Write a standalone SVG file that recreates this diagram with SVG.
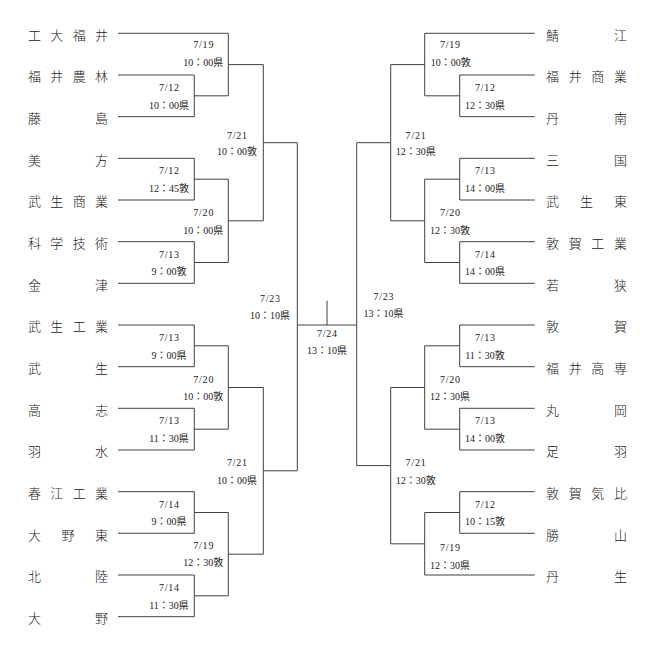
<svg xmlns="http://www.w3.org/2000/svg" width="654" height="651" viewBox="0 0 654 651">
<style>
.bg{fill:#ffffff}
.tm{font-family:"Noto Sans CJK JP","Noto Sans CJK SC",sans-serif;font-size:13px;font-weight:300;fill:#222}
.lb{font-family:"Liberation Serif","Noto Sans CJK JP",serif;font-size:10px;fill:#222;text-anchor:middle}
.d{letter-spacing:0.8px}
.ln{fill:none;stroke:#404040;stroke-width:1}
</style>
<rect class="bg" x="0" y="0" width="654" height="651"/>
<g id="connectors" class="ln">
<path d="M118 33.3H228.3M118 75H194.3M118 116.7H194.3M194.3 75V116.7M194.3 95.8H228.3M228.3 33.3V95.8M228.3 64.6H263.3"/>
<path d="M118 158.3H194.3M118 200H194.3M194.3 158.3V200M194.3 179.2H228.3M118 241.7H194.3M118 283.3H194.3M194.3 241.7V283.3M194.3 262.5H228.3M228.3 179.2V262.5M228.3 220.8H263.3"/>
<path d="M263.3 64.6V220.8M263.3 142.7H297.3"/>
<path d="M118 325H194.3M118 366.7H194.3M194.3 325V366.7M194.3 345.8H228.3M118 408.3H194.3M118 450H194.3M194.3 408.3V450M194.3 429.2H228.3M228.3 345.8V429.2M228.3 387.5H263.3"/>
<path d="M118 491.7H194.3M118 533.3H194.3M194.3 491.7V533.3M194.3 512.5H228.3M118 575H194.3M118 616.7H194.3M194.3 575V616.7M194.3 595.8H228.3M228.3 512.5V595.8M228.3 554.2H263.3"/>
<path d="M263.3 387.5V554.2M263.3 470.8H297.3"/>
<path d="M297.3 142.7V470.8M297.3 325H356.7M327 300.7V325"/>
<path d="M534.7 33.3H424.7M534.7 75H459.7M534.7 116.7H459.7M459.7 75V116.7M459.7 95.8H424.7M424.7 33.3V95.8M424.7 64.6H390.7"/>
<path d="M534.7 158.3H459.7M534.7 200H459.7M459.7 158.3V200M459.7 179.2H424.7M534.7 241.7H459.7M534.7 283.3H459.7M459.7 241.7V283.3M459.7 262.5H424.7M424.7 179.2V262.5M424.7 220.8H390.7"/>
<path d="M390.7 64.6V220.8M390.7 142.7H356.7"/>
<path d="M534.7 325H459.7M534.7 366.7H459.7M459.7 325V366.7M459.7 345.8H424.7M534.7 408.3H459.7M534.7 450H459.7M459.7 408.3V450M459.7 429.2H424.7M424.7 345.8V429.2M424.7 387.5H390.7"/>
<path d="M534.7 491.7H459.7M534.7 533.3H459.7M459.7 491.7V533.3M459.7 512.5H424.7M534.7 575H424.7M424.7 512.5V575M424.7 543.8H390.7"/>
<path d="M390.7 387.5V543.8M390.7 465.6H356.7"/>
<path d="M356.7 142.7V465.6"/>
</g>
<g id="team-kodai-fukui"><text class="tm" x="28 50.3 72.7 95" y="39.5">工大福井</text></g>
<g id="team-fukui-norin"><text class="tm" x="28 50.3 72.7 95" y="81.2">福井農林</text></g>
<g id="team-fujishima"><text class="tm" x="28 95" y="122.9">藤島</text></g>
<g id="team-mikata"><text class="tm" x="28 95" y="164.5">美方</text></g>
<g id="team-takefu-shogyo"><text class="tm" x="28 50.3 72.7 95" y="206.2">武生商業</text></g>
<g id="team-kagaku-gijutsu"><text class="tm" x="28 50.3 72.7 95" y="247.9">科学技術</text></g>
<g id="team-kanazu"><text class="tm" x="28 95" y="289.5">金津</text></g>
<g id="team-takefu-kogyo"><text class="tm" x="28 50.3 72.7 95" y="331.2">武生工業</text></g>
<g id="team-takefu"><text class="tm" x="28 95" y="372.9">武生</text></g>
<g id="team-koshi"><text class="tm" x="28 95" y="414.5">高志</text></g>
<g id="team-usui"><text class="tm" x="28 95" y="456.2">羽水</text></g>
<g id="team-shunko-kogyo"><text class="tm" x="28 50.3 72.7 95" y="497.9">春江工業</text></g>
<g id="team-ono-higashi"><text class="tm" x="28 61.5 95" y="539.5">大野東</text></g>
<g id="team-hokuriku"><text class="tm" x="28 95" y="581.2">北陸</text></g>
<g id="team-ono"><text class="tm" x="28 95" y="622.9">大野</text></g>
<g id="team-sabae"><text class="tm" x="546 614" y="39.5">鯖江</text></g>
<g id="team-fukui-shogyo"><text class="tm" x="546 568.7 591.3 614" y="81.2">福井商業</text></g>
<g id="team-tannan"><text class="tm" x="546 614" y="122.9">丹南</text></g>
<g id="team-mikuni"><text class="tm" x="546 614" y="164.5">三国</text></g>
<g id="team-takefu-higashi"><text class="tm" x="546 580 614" y="206.2">武生東</text></g>
<g id="team-tsuruga-kogyo"><text class="tm" x="546 568.7 591.3 614" y="247.9">敦賀工業</text></g>
<g id="team-wakasa"><text class="tm" x="546 614" y="289.5">若狭</text></g>
<g id="team-tsuruga"><text class="tm" x="546 614" y="331.2">敦賀</text></g>
<g id="team-fukui-kosen"><text class="tm" x="546 568.7 591.3 614" y="372.9">福井高専</text></g>
<g id="team-maruoka"><text class="tm" x="546 614" y="414.5">丸岡</text></g>
<g id="team-asuwa"><text class="tm" x="546 614" y="456.2">足羽</text></g>
<g id="team-tsuruga-kehi"><text class="tm" x="546 568.7 591.3 614" y="497.9">敦賀気比</text></g>
<g id="team-katsuyama"><text class="tm" x="546 614" y="539.5">勝山</text></g>
<g id="team-nyu"><text class="tm" x="546 614" y="581.2">丹生</text></g>
<g id="m-l-719a" class="lb"><text class="d" x="203.7" y="47.5">7/19</text><text x="203.3" y="65.5">10：00県</text></g>
<g id="m-l-712a" class="lb"><text class="d" x="169.4" y="90.8">7/12</text><text x="169" y="109.2">10：00県</text></g>
<g id="m-l-721a" class="lb"><text class="d" x="237.4" y="138.5">7/21</text><text x="237" y="155.2">10：00敦</text></g>
<g id="m-l-712b" class="lb"><text class="d" x="169.4" y="174.2">7/12</text><text x="169" y="191.8">12：45敦</text></g>
<g id="m-l-720a" class="lb"><text class="d" x="203.7" y="215.8">7/20</text><text x="203.3" y="234.2">10：00県</text></g>
<g id="m-l-713a" class="lb"><text class="d" x="169.4" y="257.8">7/13</text><text x="169" y="274.5">9：00敦</text></g>
<g id="m-l-723" class="lb"><text class="d" x="270.4" y="301.8">7/23</text><text x="270" y="318.5">10：10県</text></g>
<g id="m-l-713b" class="lb"><text class="d" x="169.4" y="340.8">7/13</text><text x="169" y="358.5">9：00県</text></g>
<g id="m-l-720b" class="lb"><text class="d" x="203.7" y="382.8">7/20</text><text x="203.3" y="399.5">10：00敦</text></g>
<g id="m-l-713c" class="lb"><text class="d" x="169.4" y="423.5">7/13</text><text x="169" y="441.8">11：30県</text></g>
<g id="m-l-721b" class="lb"><text class="d" x="237.4" y="466.2">7/21</text><text x="237" y="484.2">10：00県</text></g>
<g id="m-l-714a" class="lb"><text class="d" x="169.4" y="507.8">7/14</text><text x="169" y="525.2">9：00県</text></g>
<g id="m-l-719b" class="lb"><text class="d" x="203.7" y="548.5">7/19</text><text x="203.3" y="566.2">12：30敦</text></g>
<g id="m-l-714b" class="lb"><text class="d" x="169.4" y="590.8">7/14</text><text x="169" y="608.5">11：30県</text></g>
<g id="m-final" class="lb"><text class="d" x="327.4" y="336.8">7/24</text><text x="327" y="354.2">13：10県</text></g>
<g id="m-r-719a" class="lb"><text class="d" x="450.4" y="47.5">7/19</text><text x="450.7" y="65.5">10：00敦</text></g>
<g id="m-r-712a" class="lb"><text class="d" x="485.4" y="90.8">7/12</text><text x="485" y="109.2">12：30県</text></g>
<g id="m-r-721a" class="lb"><text class="d" x="416.1" y="138.5">7/21</text><text x="415.7" y="155.2">12：30県</text></g>
<g id="m-r-713a" class="lb"><text class="d" x="485.4" y="174.2">7/13</text><text x="485" y="191.8">14：00県</text></g>
<g id="m-r-720a" class="lb"><text class="d" x="450.4" y="215.8">7/20</text><text x="450" y="234.2">12：30敦</text></g>
<g id="m-r-714a" class="lb"><text class="d" x="485.4" y="258.2">7/14</text><text x="485" y="274.5">14：00県</text></g>
<g id="m-r-723" class="lb"><text class="d" x="383.9" y="299.5">7/23</text><text x="383.5" y="316.8">13：10県</text></g>
<g id="m-r-713b" class="lb"><text class="d" x="485.4" y="340.8">7/13</text><text x="485" y="358.5">11：30敦</text></g>
<g id="m-r-720b" class="lb"><text class="d" x="450.4" y="382.8">7/20</text><text x="450" y="399.5">12：30県</text></g>
<g id="m-r-713c" class="lb"><text class="d" x="485.4" y="423.5">7/13</text><text x="485" y="441.8">14：00敦</text></g>
<g id="m-r-721b" class="lb"><text class="d" x="416.1" y="466.2">7/21</text><text x="415.7" y="484.2">12：30敦</text></g>
<g id="m-r-712b" class="lb"><text class="d" x="485.4" y="507.8">7/12</text><text x="485" y="525.2">10：15敦</text></g>
<g id="m-r-719b" class="lb"><text class="d" x="450.4" y="551.2">7/19</text><text x="450" y="568.5">12：30県</text></g>
</svg>
